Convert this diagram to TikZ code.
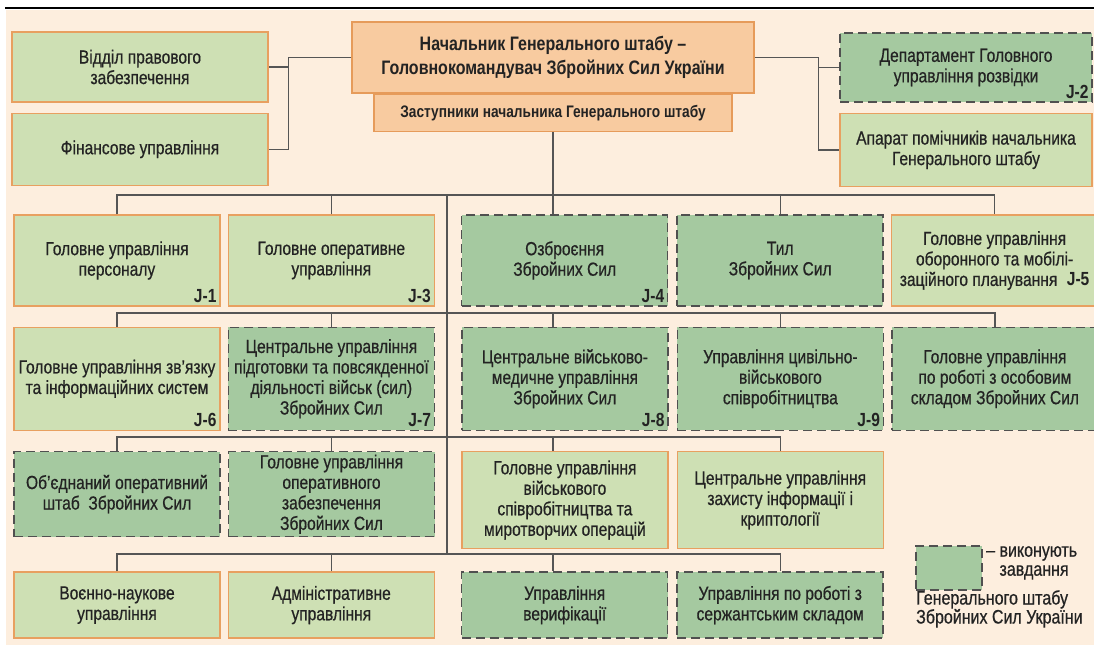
\documentclass[tikz,border=0pt]{standalone}
\usepackage{fontspec}
\setmainfont{Liberation Sans}[FakeStretch=0.82,UprightFeatures={FakeBold=0.6}]
\usepackage{xcolor}
\usepackage{tikz}
\usetikzlibrary{positioning}
\definecolor{paper}{RGB}{253,238,222}
\definecolor{boxfill}{RGB}{206,224,180}
\definecolor{boxedge}{RGB}{232,160,96}
\definecolor{taskfill}{RGB}{165,201,160}
\definecolor{taskedge}{RGB}{80,80,80}
\definecolor{headfill}{RGB}{248,203,160}
\definecolor{headedge}{RGB}{230,155,90}
\definecolor{linkc}{RGB}{85,85,85}
\definecolor{ink}{RGB}{35,35,35}
\tikzset{
  orgchart/.style={
    x=1pt,y=-1pt,
    every node/.style={text=ink,font=\fontsize{19}{20.5}\selectfont}
  },
  unit/.style={draw=boxedge,fill=boxfill,line width=1.3pt,minimum width=206pt,align=center,inner sep=2pt},
  task/.style={unit,draw=taskedge,fill=taskfill,line width=1.5pt,dash pattern=on 9pt off 5pt},
  head/.style={draw=headedge,fill=headfill,line width=1.3pt,align=center,font=\bfseries\fontsize{19.5}{24}\selectfont},
  rowone/.style={minimum height=91pt},
  rowtwo/.style={minimum height=103pt},
  rowthree/.style={minimum height=85pt},
  rowfour/.style={minimum height=66pt},
  link/.style={draw=linkc,line width=1.3pt},
  jtag/.style={anchor=south east,inner sep=4pt,font=\bfseries\fontsize{19}{20}\selectfont},
  keytext/.style={align=left,inner sep=0pt,anchor=north west,font=\fontsize{19.5}{19}\selectfont}
}
\begin{document}
\begin{tikzpicture}[orgchart]
  \useasboundingbox (0,0) rectangle (1094,645);
  \fill[white] (0,0) rectangle (1094,645);
  \fill[paper] (6,10) rectangle (1094,645);
  \draw[line width=2pt] (5,8) -- (1094,8);

  % top level
  \node[head,minimum width=402pt,minimum height=71pt] (chief) at (553,57.5) {Начальник Генерального штабу –\\Головнокомандувач Збройних Сил України};
  \node[head,minimum width=358pt,minimum height=37pt,font=\bfseries\fontsize{16.7}{20}\selectfont] (deputy) [below=0pt of chief] {Заступники начальника Генерального штабу};

  \node[unit,minimum width=256pt,minimum height=70pt] (legal) at (140,67) {Відділ правового\\забезпечення};
  \node[unit,minimum width=256pt,minimum height=72pt] (finance) [below=10pt of legal] {Фінансове управління};
  \node[task,minimum width=252pt,minimum height=69pt] (intel) at (966,67.5) {Департамент Головного\\управління розвідки};
  \node[jtag] (j2) at (intel.south east) {J-2};
  \node[unit,minimum width=252pt,minimum height=73pt] (aides) [below=10pt of intel] {Апарат помічників начальника\\Генерального штабу};

  % row 1
  \node[unit,rowone] (r1c1) at (117,260.5) {Головне управління\\персоналу};
  \node[unit,rowone] (r1c2) [right=7pt of r1c1] {Головне оперативне\\управління};
  \node[task,rowone] (r1c3) [right=26pt of r1c2] {Озброєння\\Збройних Сил};
  \node[task,rowone] (r1c4) [right=8pt of r1c3] {Тил\\Збройних Сил};
  \node[unit,rowone] (r1c5) [right=7pt of r1c4] {Головне управління\\оборонного та мобілі-\\заційного планування\enspace\textbf{J-5}};
  \node[jtag] (j1) at (r1c1.south east) {J-1};
  \node[jtag] (j3) at (r1c2.south east) {J-3};
  \node[jtag] (j4) at (r1c3.south east) {J-4};

  % row 2
  \node[unit,rowtwo] (r2c1) [below=20pt of r1c1] {Головне управління зв’язку\\та інформаційних систем};
  \node[task,rowtwo] (r2c2) [right=7pt of r2c1] {Центральне управління\\підготовки та повсякденної\\діяльності військ (сил)\\Збройних Сил};
  \node[task,rowtwo] (r2c3) [right=26pt of r2c2] {Центральне військово-\\медичне управління\\Збройних Сил};
  \node[task,rowtwo] (r2c4) [right=8pt of r2c3] {Управління цивільно-\\військового\\співробітництва};
  \node[task,rowtwo] (r2c5) [right=7pt of r2c4] {Головне управління\\по роботі з особовим\\складом Збройних Сил};
  \node[jtag] (j6) at (r2c1.south east) {J-6};
  \node[jtag] (j7) at (r2c2.south east) {J-7};
  \node[jtag] (j8) at (r2c3.south east) {J-8};
  \node[jtag] (j9) at (r2c4.south east) {J-9};

  % row 3
  \node[task,rowthree] (r3c1) [below=20pt of r2c1] {Об’єднаний оперативний\\штаб~ Збройних Сил};
  \node[task,rowthree] (r3c2) [right=7pt of r3c1] {Головне управління\\оперативного\\забезпечення\\Збройних Сил};
  \node[unit,minimum height=97pt] (r3c3) [right=26pt of r3c2.north east,anchor=north west] {Головне управління\\військового\\співробітництва та\\миротворчих операцій};
  \node[unit,minimum height=97pt] (r3c4) [right=8pt of r3c3] {Центральне управління\\захисту інформації і\\криптології};

  % row 4
  \node[unit,rowfour] (r4c1) [below=34pt of r3c1] {Воєнно-наукове\\управління};
  \node[unit,rowfour] (r4c2) [right=7pt of r4c1] {Адміністративне\\управління};
  \node[task,rowfour] (r4c3) [right=26pt of r4c2] {Управління\\верифікації};
  \node[task,rowfour] (r4c4) [right=8pt of r4c3] {Управління по роботі з\\сержантським складом};

  % legend
  \node[task,minimum width=66pt,minimum height=44pt] (key) at (949,568) {};
  \node[keytext] (keynote) at (986,546) {– виконують\\\hphantom{– }завдання};
  \node[keytext] (keyrest) at (916,590) {Генерального штабу\\Збройних Сил України};

  % connectors
  \draw[link] (chief.west) -- ++(-63,0) coordinate (lj) |- (finance.east);
  \draw[link] (lj |- legal.east) -- (legal.east);
  \draw[link] (chief.east) -- ++(64,0) coordinate (rj) |- (aides.west);
  \draw[link] (rj |- intel.west) -- (intel.west);

  \coordinate (bus1) at (0,195);
  \coordinate (bus2) at (0,313);
  \coordinate (bus3) at (0,437);
  \coordinate (bus4) at (0,554);
  \coordinate (trunk) at (447,0);
  \draw[link] (deputy.south) -- (deputy.south |- r1c3.north);
  \draw[link] (trunk |- bus1) -- (trunk |- bus4);
  \foreach \r/\last in {1/5,2/5,3/4,4/4}{
    \draw[link] (r\r c1.north) |- (bus\r -| r\r c\last.north) -- (r\r c\last.north);
    \draw[link] (r\r c2.north) -- (r\r c2.north |- bus\r);
    \draw[link] (r\r c4.north) -- (r\r c4.north |- bus\r);
    \draw[link] (deputy.south |- bus\r) -- (deputy.south |- r\r c3.north);
  }
\end{tikzpicture}
\end{document}
